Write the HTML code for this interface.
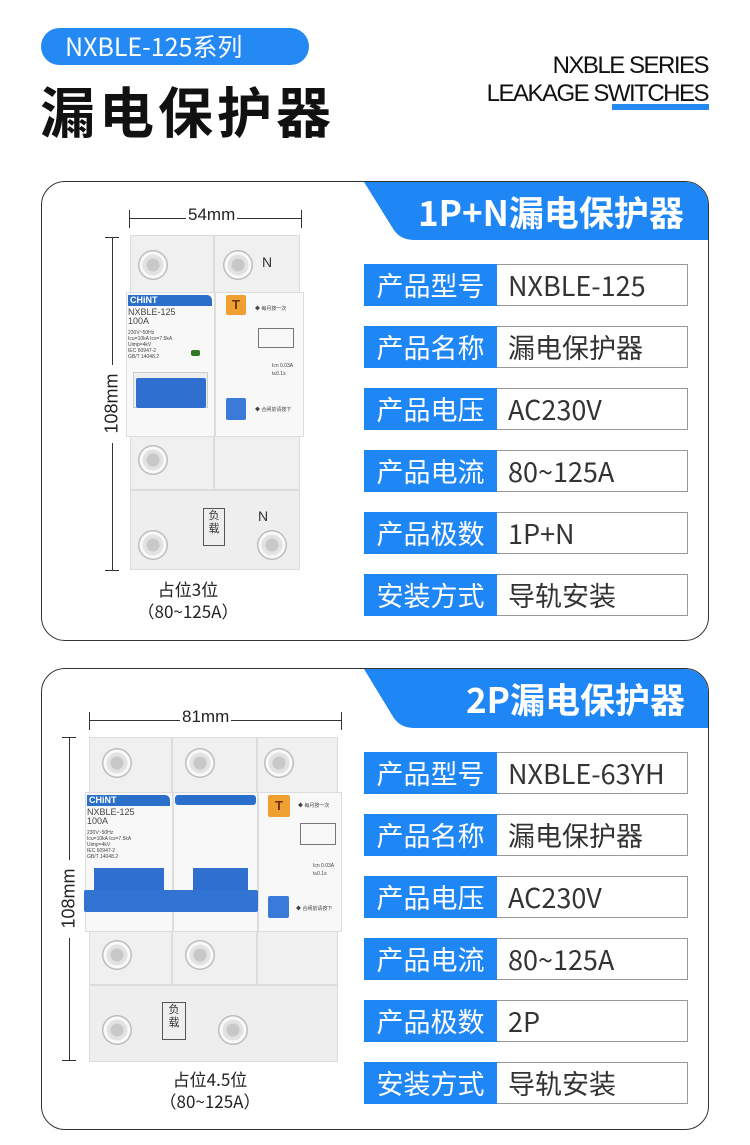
<!DOCTYPE html>
<html><head><meta charset="utf-8"><style>
*{margin:0;padding:0;box-sizing:border-box}
body{width:750px;height:1145px;background:#fff;position:relative;overflow:hidden;font-family:"Liberation Sans","Noto Sans CJK SC",sans-serif}
.a{position:absolute}
.card{position:absolute;left:41px;width:668px;border:1.5px solid #333;border-radius:24px;overflow:hidden;background:#fff}
.lab{position:absolute;left:364px;width:133px;height:42px;background:#1f86f5;color:#fff;font-size:27px;line-height:42px;text-align:center;font-family:"Noto Sans CJK SC",sans-serif}
.val{position:absolute;left:497px;width:191px;height:42px;border:1.5px solid #999;border-left:none;color:#333;font-size:27px;line-height:40px;padding-left:11px;font-family:"Noto Sans CJK SC",sans-serif;white-space:nowrap}
.scr{position:absolute;width:30px;height:30px;border-radius:50%;background:radial-gradient(circle,#c8c8c8 0 6px,#e2e2e2 7px 10px,#fafafa 11px 13px,#bbb 14px);}
.pn{position:absolute;background:#f0f0f0;border:1px solid #dcdcdc}
.fr{position:absolute;background:#f8f8f8;border:1px solid #ddd}
.blue{position:absolute;background:#2f6fd0;border-radius:2px}
.t{position:absolute;font-size:7px;color:#444;line-height:8px;white-space:nowrap}
</style></head><body>
<div class="a" style="left:41px;top:28px;width:268px;height:37px;border-radius:19px;background:#2589f4;color:#fff;font-size:25px;line-height:37px;padding-left:24px;font-family:'Noto Sans CJK SC',sans-serif">NXBLE-125系列</div>
<div class="a" style="left:40px;top:74px;font-size:55px;font-weight:bold;line-height:70px;letter-spacing:4px;font-family:'Noto Sans CJK SC',sans-serif;color:#111">漏电保护器</div>
<div class="a" style="right:42px;top:52px;font-size:24px;line-height:28px;text-align:right;color:#111;letter-spacing:-1.5px">NXBLE SERIES<br>LEAKAGE SWITCHES</div>
<div class="a" style="left:612px;top:104px;width:97px;height:6px;background:#2589f4"></div>

<!-- card 1 -->
<div class="card" style="top:181px;height:460px">
<svg class="a" style="left:0;top:0" width="668" height="60"><path d="M322,0 L668,0 L668,58 L372,58 Q357,58 350,45 Z" fill="#1f86f5"/></svg>
<div class="a" style="left:376px;top:7px;color:#fff;font-size:35px;font-weight:bold;line-height:46px;font-family:'Noto Sans CJK SC',sans-serif">1P+N漏电保护器</div>
</div>
<!-- dims 1 -->
<div class="a" style="left:129px;top:210px;width:1px;height:18px;background:#333"></div>
<div class="a" style="left:301px;top:210px;width:1px;height:18px;background:#333"></div>
<div class="a" style="left:129px;top:218px;width:172px;height:1px;background:#333"></div>
<div class="a" style="left:186px;top:205px;background:#fff;font-size:17px;padding:0 2px;color:#222">54mm</div>
<div class="a" style="left:112px;top:237px;width:1px;height:333px;background:#333"></div>
<div class="a" style="left:105px;top:237px;width:14px;height:1px;background:#333"></div>
<div class="a" style="left:105px;top:570px;width:14px;height:1px;background:#333"></div>
<div class="a" style="left:101px;top:365px;width:22px;height:78px;background:#fff"></div>
<div class="a" style="left:72px;top:393px;font-size:18px;transform:rotate(-90deg);color:#222;width:80px;text-align:center">108mm</div>
<!-- breaker 1 -->
<div class="pn" style="left:130px;top:235px;width:84px;height:60px"></div>
<div class="pn" style="left:214px;top:235px;width:86px;height:60px"></div>
<div class="pn" style="left:130px;top:432px;width:84px;height:58px"></div>
<div class="pn" style="left:214px;top:432px;width:86px;height:58px"></div>
<div class="pn" style="left:130px;top:490px;width:170px;height:80px;background:#eee"></div>
<div class="fr" style="left:126px;top:292px;width:89px;height:145px"></div>
<div class="fr" style="left:215px;top:292px;width:89px;height:145px"></div>
<div class="a" style="left:128px;top:295px;width:84px;height:11px;background:#2a6fc9;border-radius:0 5px 0 0;color:#fff;font-size:9px;font-weight:bold;line-height:11px;padding-left:2px">CHiNT</div>
<div class="t" style="left:128px;top:308px;font-size:9px;line-height:9px">NXBLE-125<br>100A</div>
<div class="t" style="left:128px;top:330px;font-size:5px;line-height:6px">230V~50Hz<br>Icu=10kA Ics=7.5kA<br>Uimp=4kV<br>IEC 60947-2<br>GB/T 14048.2</div>
<div class="a" style="left:191px;top:350px;width:9px;height:6px;background:#2f7a20;border-radius:2px"></div>
<div class="a" style="left:133px;top:372px;width:75px;height:36px;background:#eee;border:1px solid #ccc"></div>
<div class="blue" style="left:136px;top:378px;width:70px;height:30px"></div>
<div class="a" style="left:226px;top:295px;width:20px;height:20px;background:#f0a030;border-radius:2px;color:#6a3000;font-weight:bold;text-align:center;font-size:13px;line-height:20px">T</div>
<div class="t" style="left:255px;top:305px;font-size:5px">◆ 每月按一次</div>
<div class="a" style="left:258px;top:328px;width:36px;height:20px;border:1px solid #777"></div>
<div class="t" style="left:272px;top:362px;font-size:5px">Icn 0.03A<br>t≤0.1s</div>
<div class="blue" style="left:226px;top:398px;width:20px;height:22px;background:#3a7ad8"></div>
<div class="t" style="left:255px;top:406px;font-size:5px">◆ 合闸前请按下</div>
<div class="a" style="left:262px;top:254px;font-size:14px;color:#333">N</div>
<div class="a" style="left:258px;top:508px;font-size:14px;color:#333">N</div>
<div class="a" style="left:203px;top:508px;width:22px;height:38px;border:1px solid #555;font-size:11px;line-height:13px;text-align:center;color:#333;font-family:'Noto Sans CJK SC',sans-serif">负<br>载</div>
<div class="scr" style="left:138px;top:250px"></div>
<div class="scr" style="left:223px;top:250px"></div>
<div class="scr" style="left:138px;top:445px"></div>
<div class="scr" style="left:138px;top:530px"></div>
<div class="scr" style="left:257px;top:530px"></div>
<div class="a" style="left:118px;top:578px;width:140px;text-align:center;font-size:17px;line-height:22px;color:#222;font-family:'Noto Sans CJK SC',sans-serif">占位3位<br>（80~125A）</div>

<div class="lab" style="top:264px">产品型号</div><div class="val" style="top:264px">NXBLE-125</div>
<div class="lab" style="top:326px">产品名称</div><div class="val" style="top:326px">漏电保护器</div>
<div class="lab" style="top:388px">产品电压</div><div class="val" style="top:388px">AC230V</div>
<div class="lab" style="top:450px">产品电流</div><div class="val" style="top:450px">80~125A</div>
<div class="lab" style="top:512px">产品极数</div><div class="val" style="top:512px">1P+N</div>
<div class="lab" style="top:574px">安装方式</div><div class="val" style="top:574px">导轨安装</div>

<!-- card 2 -->
<div class="card" style="top:668px;height:462px">
<svg class="a" style="left:0;top:0" width="668" height="60"><path d="M322,0 L668,0 L668,59 L372,59 Q357,59 350,46 Z" fill="#1f86f5"/></svg>
<div class="a" style="left:424px;top:7px;color:#fff;font-size:35px;font-weight:bold;line-height:46px;font-family:'Noto Sans CJK SC',sans-serif">2P漏电保护器</div>
</div>
<div class="a" style="left:89px;top:712px;width:1px;height:18px;background:#333"></div>
<div class="a" style="left:341px;top:712px;width:1px;height:18px;background:#333"></div>
<div class="a" style="left:89px;top:720px;width:252px;height:1px;background:#333"></div>
<div class="a" style="left:180px;top:707px;background:#fff;font-size:17px;padding:0 2px;color:#222">81mm</div>
<div class="a" style="left:69px;top:737px;width:1px;height:323px;background:#333"></div>
<div class="a" style="left:62px;top:737px;width:14px;height:1px;background:#333"></div>
<div class="a" style="left:62px;top:1060px;width:14px;height:1px;background:#333"></div>
<div class="a" style="left:58px;top:860px;width:22px;height:78px;background:#fff"></div>
<div class="a" style="left:29px;top:888px;font-size:18px;transform:rotate(-90deg);color:#222;width:80px;text-align:center">108mm</div>
<div class="pn" style="left:89px;top:737px;width:83px;height:58px"></div>
<div class="pn" style="left:172px;top:737px;width:85px;height:58px"></div>
<div class="pn" style="left:257px;top:737px;width:81px;height:58px"></div>
<div class="pn" style="left:89px;top:930px;width:83px;height:55px"></div>
<div class="pn" style="left:172px;top:930px;width:85px;height:55px"></div>
<div class="pn" style="left:257px;top:930px;width:81px;height:55px"></div>
<div class="pn" style="left:89px;top:985px;width:249px;height:77px;background:#eee"></div>
<div class="fr" style="left:85px;top:792px;width:88px;height:140px"></div>
<div class="fr" style="left:173px;top:792px;width:85px;height:140px"></div>
<div class="fr" style="left:258px;top:792px;width:84px;height:140px"></div>
<div class="a" style="left:87px;top:795px;width:83px;height:11px;background:#2a6fc9;border-radius:0 5px 0 0;color:#fff;font-size:9px;font-weight:bold;line-height:11px;padding-left:2px">CHiNT</div>
<div class="a" style="left:175px;top:795px;width:81px;height:10px;background:#2a6fc9;border-radius:3px"></div>
<div class="t" style="left:87px;top:808px;font-size:9px;line-height:9px">NXBLE-125<br>100A</div>
<div class="t" style="left:87px;top:830px;font-size:5px;line-height:6px">230V~50Hz<br>Icu=10kA Ics=7.5kA<br>Uimp=4kV<br>IEC 60947-2<br>GB/T 14048.2</div>
<div class="a" style="left:94px;top:868px;width:70px;height:28px;background:#2f6fd0"></div>
<div class="a" style="left:193px;top:868px;width:55px;height:28px;background:#2f6fd0"></div>
<div class="a" style="left:84px;top:890px;width:174px;height:22px;background:#3274d4;border-radius:2px"></div>
<div class="a" style="left:268px;top:795px;width:22px;height:22px;background:#f0a030;border-radius:2px;color:#6a3000;font-weight:bold;text-align:center;font-size:13px;line-height:22px">T</div>
<div class="t" style="left:298px;top:802px;font-size:5px">◆ 每月按一次</div>
<div class="a" style="left:300px;top:823px;width:36px;height:22px;border:1px solid #777"></div>
<div class="t" style="left:313px;top:862px;font-size:5px">Icn 0.03A<br>t≤0.1s</div>
<div class="blue" style="left:268px;top:896px;width:21px;height:22px;background:#3a7ad8"></div>
<div class="t" style="left:296px;top:905px;font-size:5px">◆ 合闸前请按下</div>
<div class="a" style="left:162px;top:1002px;width:24px;height:38px;border:1px solid #555;font-size:11px;line-height:13px;text-align:center;color:#333;font-family:'Noto Sans CJK SC',sans-serif">负<br>载</div>
<div class="scr" style="left:102px;top:748px"></div>
<div class="scr" style="left:185px;top:748px"></div>
<div class="scr" style="left:264px;top:748px"></div>
<div class="scr" style="left:102px;top:940px"></div>
<div class="scr" style="left:185px;top:940px"></div>
<div class="scr" style="left:102px;top:1015px"></div>
<div class="scr" style="left:218px;top:1015px"></div>
<div class="a" style="left:140px;top:1068px;width:140px;text-align:center;font-size:17px;line-height:22px;color:#222;font-family:'Noto Sans CJK SC',sans-serif">占位4.5位<br>（80~125A）</div>

<div class="lab" style="top:752px">产品型号</div><div class="val" style="top:752px">NXBLE-63YH</div>
<div class="lab" style="top:814px">产品名称</div><div class="val" style="top:814px">漏电保护器</div>
<div class="lab" style="top:876px">产品电压</div><div class="val" style="top:876px">AC230V</div>
<div class="lab" style="top:938px">产品电流</div><div class="val" style="top:938px">80~125A</div>
<div class="lab" style="top:1000px">产品极数</div><div class="val" style="top:1000px">2P</div>
<div class="lab" style="top:1062px">安装方式</div><div class="val" style="top:1062px">导轨安装</div>
</body></html>
